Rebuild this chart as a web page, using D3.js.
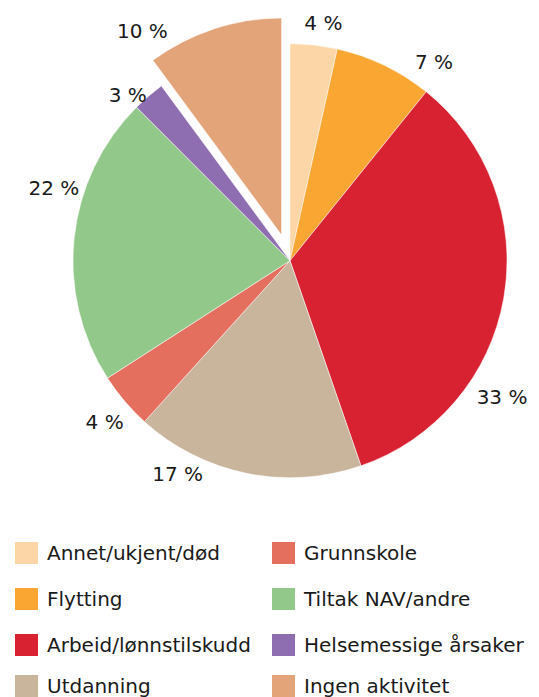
<!DOCTYPE html>
<html>
<head>
<meta charset="utf-8">
<script src="https://cdn.jsdelivr.net/npm/d3@7"></script>
<style>
  body { margin: 0; background: #fff; }
  svg text { font-family: "DejaVu Sans", Verdana, sans-serif; font-size: 20px; fill: #1a1a1a; }
</style>
</head>
<body>
<div id="chart"></div>
<script>
// categories, clockwise from 12 o'clock
var categories = ['Annet/ukjent/død', 'Flytting', 'Arbeid/lønnstilskudd', 'Utdanning',
                  'Grunnskole', 'Tiltak NAV/andre', 'Helsemessige årsaker', 'Ingen aktivitet'];
// slice sizes (percent)
var shares = [3.5, 7.3, 33.9, 17.0, 4.2, 21.6, 2.4, 10.1];
// printed labels
var labels = ['4 %', '7 %', '33 %', '17 %', '4 %', '22 %', '3 %', '10 %'];
var colors = ['#fcd6a6', '#f9a632', '#d82231', '#c9b59c', '#e46f5f', '#93c88b', '#8e6db0', '#e4a47a'];
// which slice is pulled out
var exploded = 'Ingen aktivitet';

window.onload = (function () {
    var width = 539, height = 697;
    var cx = 290, cy = 260.7, radius = 217, pull = 27;
    // label placement (degrees clockwise from top, distance from centre)
    var labelDeg = [8, 36, 122.7, 207.8, 228.9, 287.1, 315.6, 325.7];
    var labelDist = [240, 245, 252, 241, 246, 247, 232, 247];

    var svg = d3.select('#chart').append('svg')
        .attr('width', width)
        .attr('height', height);

    var pie = d3.pie().sort(null).value(function (d) { return d; });
    var arc = d3.arc().innerRadius(0).outerRadius(radius);
    var arcs = pie(shares);

    var shift = function (d, i) {
        if (categories[i] !== exploded) return [0, 0];
        var a = (d.startAngle + d.endAngle) / 2;
        return [pull * Math.sin(a), -pull * Math.cos(a)];
    };

    var g = svg.append('g').attr('transform', 'translate(' + cx + ',' + cy + ')');

    g.selectAll('path').data(arcs).enter().append('path')
        .attr('d', arc)
        .attr('fill', function (d, i) { return colors[i]; })
        .attr('stroke', '#fff')
        .attr('stroke-width', 0.5)
        .attr('transform', function (d, i) {
            var s = shift(d, i);
            return 'translate(' + s[0] + ',' + s[1] + ')';
        });

    g.selectAll('text.lbl').data(arcs).enter().append('text')
        .attr('class', 'lbl')
        .attr('text-anchor', 'middle')
        .attr('dy', '0.35em')
        .attr('x', function (d, i) {
            return shift(d, i)[0] + labelDist[i] * Math.sin(labelDeg[i] * Math.PI / 180);
        })
        .attr('y', function (d, i) {
            return shift(d, i)[1] - labelDist[i] * Math.cos(labelDeg[i] * Math.PI / 180);
        })
        .text(function (d, i) { return labels[i]; });

    // legend: two columns, four rows
    var colX = [15, 272], rowY = [542, 588, 634, 675];
    var items = svg.selectAll('g.leg').data(categories).enter().append('g')
        .attr('class', 'leg')
        .attr('transform', function (d, i) {
            return 'translate(' + colX[Math.floor(i / 4)] + ',' + rowY[i % 4] + ')';
        });
    items.append('rect')
        .attr('width', 23)
        .attr('height', 22)
        .attr('fill', function (d, i) { return colors[i]; });
    items.append('text')
        .attr('x', 32)
        .attr('y', 11)
        .attr('dy', '0.35em')
        .text(function (d) { return d; });
}());
</script>
</body>
</html>
